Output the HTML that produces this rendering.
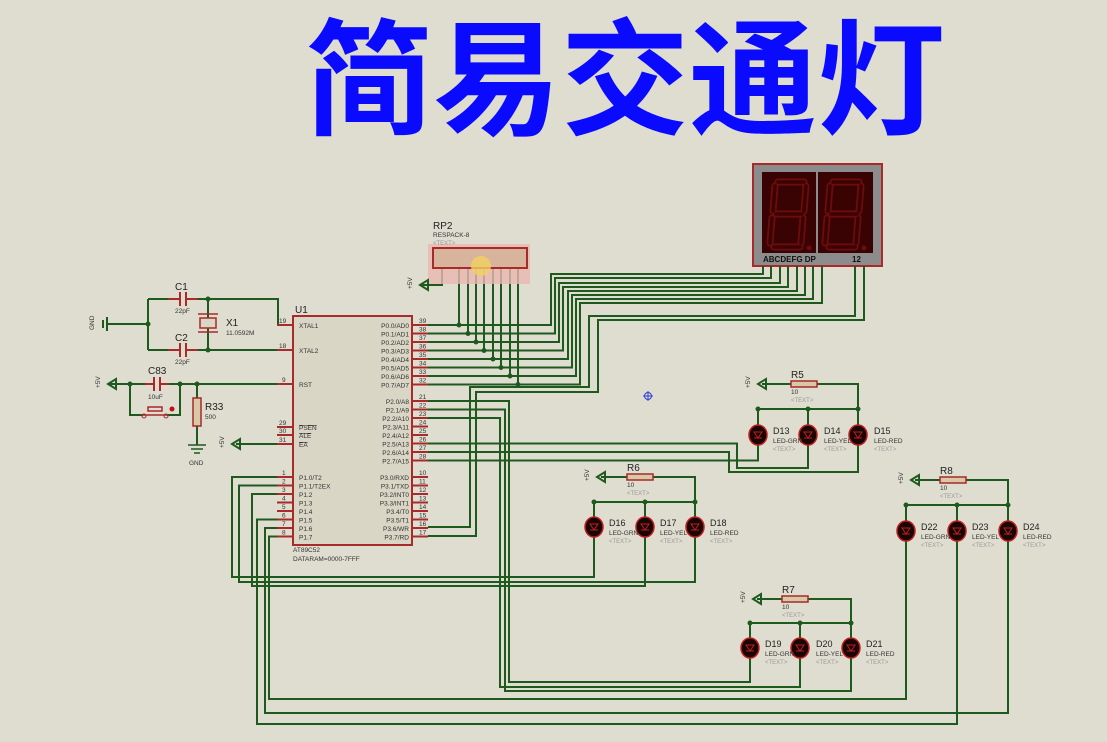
<!DOCTYPE html>
<html><head><meta charset="utf-8"><style>
html,body{margin:0;padding:0;background:#dfddd0;}
svg{display:block;}
.w{stroke:#1e5a1e;stroke-width:2;fill:none;}
.p{stroke:#a82a2a;stroke-width:2;fill:none;}
.t{font-family:"Liberation Sans",sans-serif;fill:#222;}
.s{font-family:"Liberation Sans",sans-serif;font-size:6.5px;fill:#333;}
.g{font-family:"Liberation Sans",sans-serif;font-size:6px;fill:#999;}
</style></head><body>
<svg width="1107" height="742" viewBox="0 0 1107 742" xmlns="http://www.w3.org/2000/svg">
<rect width="1107" height="742" fill="#dfddd0"/>
<text x="305" y="125" font-family="'Noto Sans CJK SC','WenQuanYi Zen Hei',sans-serif" font-weight="bold" font-size="126" fill="#0a0aff" textLength="640" lengthAdjust="spacingAndGlyphs">简易交通灯</text>

<!-- seven segment -->
<rect x="753" y="164" width="129" height="102" fill="#8c8c8c" stroke="#a82a2a" stroke-width="2"/>
<rect x="762" y="172" width="111" height="81" fill="#3a0303"/>
<line x1="817" y1="172" x2="817" y2="253" stroke="#8c8c8c" stroke-width="2"/>
<g fill="none" stroke-linecap="round">
<g stroke="#6e0c0c" stroke-width="7">
<path d="M778 182H804M775 186L773 211M806 186L804 211M776 214H802M772 218L770 243M803 218L801 243M774 247H800"/>
<path d="M833 182H859M830 186L828 211M861 186L859 211M831 214H857M827 218L825 243M858 218L856 243M829 247H855"/>
</g>
<g stroke="#3a0303" stroke-width="3.5">
<path d="M778 182H804M775 186L773 211M806 186L804 211M776 214H802M772 218L770 243M803 218L801 243M774 247H800"/>
<path d="M833 182H859M830 186L828 211M861 186L859 211M831 214H857M827 218L825 243M858 218L856 243M829 247H855"/>
</g>
</g>
<circle cx="809" cy="248" r="2.5" fill="#6e0c0c"/><circle cx="864" cy="248" r="2.5" fill="#6e0c0c"/>
<text x="763" y="262" font-family="'Liberation Sans',sans-serif" font-size="8" font-weight="bold" fill="#111">ABCDEFG DP</text>
<text x="852" y="262" font-family="'Liberation Sans',sans-serif" font-size="8" font-weight="bold" fill="#111">12</text>

<g class="w">
<path d="M428 325H551V274H763V266"/>
<path d="M428 333.5H555V278H771V266"/>
<path d="M428 342H559V283H780V266"/>
<path d="M428 350.5H563V287H788V266"/>
<path d="M428 359H568V291H797V266"/>
<path d="M428 367.5H572V295H805V266"/>
<path d="M428 376H576V299H813V266"/>
<path d="M428 384.5H580V303H822V266"/>
<path d="M855 266V316H589V387H470V527H428"/>
<path d="M864 266V320H598V392H476V536H428"/>
<path d="M459 268V325M468 268V333.5M476 268V342M484 268V350.5M493 268V359M501 268V367.5M510 268V376M518 268V384.5"/>
<path d="M442 268V285H422"/>
<path d="M428 401H509V682H750V657"/>
<path d="M428 409.5H505V691H851V657"/>
<path d="M428 418H500V687H800V657"/>
<path d="M428 443.5H737V468H808V444"/>
<path d="M428 452H729V472H858V444"/>
<path d="M428 460.5H758V444"/>
<path d="M282 477H232V577H594V536"/>
<path d="M282 485.5H239V582H695V536"/>
<path d="M282 494H252V586H645V536"/>
<path d="M282 519.5H257V724H957V540"/>
<path d="M282 528H265V713H1008V540"/>
<path d="M282 536.5H269V699H906V540"/>
<path d="M762 384H858V409M758 409H858M758 409V426M808 409V426M858 409V426"/>
<path d="M601 477H695V502M594 502H695M594 502V518M645 502V518M695 502V518"/>
<path d="M915 480H1008V505M906 505H1008M906 505V522M957 505V522M1008 505V522"/>
<path d="M757 599H851V623M750 623H851M750 623V639M800 623V639M851 623V639"/>
<path d="M148 299H278V325H293M148 350H293M148 299V350M108 324H148M208 299V350"/>
<path d="M110 384H293M130 384V415H143M167 415H180V384M197 384V445"/>
<path d="M236 444H282"/>
</g>
<g fill="#1e5a1e">
<circle cx="459" cy="325" r="2.5"/><circle cx="468" cy="333.5" r="2.5"/><circle cx="476" cy="342" r="2.5"/><circle cx="484" cy="350.5" r="2.5"/><circle cx="493" cy="359" r="2.5"/><circle cx="501" cy="367.5" r="2.5"/><circle cx="510" cy="376" r="2.5"/><circle cx="518" cy="384.5" r="2.5"/>
<circle cx="758" cy="409" r="2.5"/><circle cx="808" cy="409" r="2.5"/><circle cx="858" cy="409" r="2.5"/>
<circle cx="594" cy="502" r="2.5"/><circle cx="645" cy="502" r="2.5"/><circle cx="695" cy="502" r="2.5"/>
<circle cx="906" cy="505" r="2.5"/><circle cx="957" cy="505" r="2.5"/><circle cx="1008" cy="505" r="2.5"/>
<circle cx="750" cy="623" r="2.5"/><circle cx="800" cy="623" r="2.5"/><circle cx="851" cy="623" r="2.5"/>
<circle cx="148" cy="324" r="2.5"/><circle cx="208" cy="299" r="2.5"/><circle cx="208" cy="350" r="2.5"/>
<circle cx="130" cy="384" r="2.5"/><circle cx="180" cy="384" r="2.5"/><circle cx="197" cy="384" r="2.5"/>
</g>

<rect x="428" y="244" width="102" height="40" fill="#e9b8b0" opacity="0.8"/>
<rect x="433" y="248" width="94" height="20" fill="#d8b49c" stroke="#a82a2a" stroke-width="2"/>
<circle cx="481" cy="266" r="10" fill="#f2d060" opacity="0.8"/>
<text x="433" y="229" class="t" font-size="10">RP2</text>
<text x="433" y="237" class="s">RESPACK-8</text>
<text x="433" y="245" class="g">&lt;TEXT&gt;</text>

<rect x="293" y="316" width="119" height="229" fill="#d9d6c6" stroke="#a82a2a" stroke-width="2"/>
<g class="p">
<path d="M412 325H428M412 333.5H428M412 342H428M412 350.5H428M412 359H428M412 367.5H428M412 376H428M412 384.5H428"/>
<path d="M412 401H428M412 409.5H428M412 418H428M412 426.5H428M412 435H428M412 443.5H428M412 452H428M412 460.5H428"/>
<path d="M412 477H428M412 485.5H428M412 494H428M412 502.5H428M412 511H428M412 519.5H428M412 528H428M412 536.5H428"/>
<path d="M277 325H293M277 350H293M277 384H293M277 427H293M277 435H293M277 444H293"/>
<path d="M277 477H293M277 485.5H293M277 494H293M277 502.5H293M277 511H293M277 519.5H293M277 528H293M277 536.5H293"/>
</g>
<text x="295" y="313" class="t" font-size="10">U1</text>
<g class="s">
<text x="299" y="328">XTAL1</text><text x="299" y="353">XTAL2</text><text x="299" y="387">RST</text>
<text x="299" y="430" text-decoration="overline">PSEN</text><text x="299" y="438" text-decoration="overline">ALE</text><text x="299" y="447" text-decoration="overline">EA</text>
<text x="299" y="480">P1.0/T2</text><text x="299" y="488.5">P1.1/T2EX</text><text x="299" y="497">P1.2</text><text x="299" y="505.5">P1.3</text><text x="299" y="514">P1.4</text><text x="299" y="522.5">P1.5</text><text x="299" y="531">P1.6</text><text x="299" y="539.5">P1.7</text>
</g>
<g class="s" text-anchor="end">
<text x="409" y="328">P0.0/AD0</text><text x="409" y="336.5">P0.1/AD1</text><text x="409" y="345">P0.2/AD2</text><text x="409" y="353.5">P0.3/AD3</text><text x="409" y="362">P0.4/AD4</text><text x="409" y="370.5">P0.5/AD5</text><text x="409" y="379">P0.6/AD6</text><text x="409" y="387.5">P0.7/AD7</text>
<text x="409" y="404">P2.0/A8</text><text x="409" y="412.5">P2.1/A9</text><text x="409" y="421">P2.2/A10</text><text x="409" y="429.5">P2.3/A11</text><text x="409" y="438">P2.4/A12</text><text x="409" y="446.5">P2.5/A13</text><text x="409" y="455">P2.6/A14</text><text x="409" y="463.5">P2.7/A15</text>
<text x="409" y="480">P3.0/RXD</text><text x="409" y="488.5">P3.1/TXD</text><text x="409" y="497">P3.2/INT0</text><text x="409" y="505.5">P3.3/INT1</text><text x="409" y="514">P3.4/T0</text><text x="409" y="522.5">P3.5/T1</text><text x="409" y="531">P3.6/WR</text><text x="409" y="539.5">P3.7/RD</text>
</g>
<g class="s">
<text x="419" y="323">39</text><text x="419" y="331.5">38</text><text x="419" y="340">37</text><text x="419" y="348.5">36</text><text x="419" y="357">35</text><text x="419" y="365.5">34</text><text x="419" y="374">33</text><text x="419" y="382.5">32</text>
<text x="419" y="399">21</text><text x="419" y="407.5">22</text><text x="419" y="416">23</text><text x="419" y="424.5">24</text><text x="419" y="433">25</text><text x="419" y="441.5">26</text><text x="419" y="450">27</text><text x="419" y="458.5">28</text>
<text x="419" y="475">10</text><text x="419" y="483.5">11</text><text x="419" y="492">12</text><text x="419" y="500.5">13</text><text x="419" y="509">14</text><text x="419" y="517.5">15</text><text x="419" y="526">16</text><text x="419" y="534.5">17</text>
<text x="279" y="323">19</text><text x="279" y="348">18</text><text x="282" y="382">9</text><text x="279" y="425">29</text><text x="279" y="433">30</text><text x="279" y="442">31</text>
<text x="282" y="475">1</text><text x="282" y="483.5">2</text><text x="282" y="492">3</text><text x="282" y="500.5">4</text><text x="282" y="509">5</text><text x="282" y="517.5">6</text><text x="282" y="526">7</text><text x="282" y="534.5">8</text>
<text x="293" y="552">AT89C52</text><text x="293" y="561">DATARAM=0000-7FFF</text>
</g>

<rect x="168" y="293" width="30" height="12" fill="#dfddd0"/>
<rect x="168" y="344" width="30" height="12" fill="#dfddd0"/>
<g class="p"><path d="M168 299H180M186 299H198M180 292V306M186 292V306"/><path d="M168 350H180M186 350H198M180 343V357M186 343V357"/></g>
<text x="175" y="290" class="t" font-size="10">C1</text><text x="175" y="341" class="t" font-size="10">C2</text>
<text x="175" y="313" class="s">22pF</text><text x="175" y="364" class="s">22pF</text>
<rect x="200" y="318" width="16" height="10" fill="#d9d6c6" stroke="#a82a2a" stroke-width="1.5"/>
<path d="M198 314H218M198 332H218" stroke="#a82a2a" stroke-width="1.5"/>
<text x="226" y="326" class="t" font-size="10">X1</text><text x="226" y="335" class="s">11.0592M</text>
<path d="M107 317V331M103 320V328" stroke="#1e5a1e" stroke-width="2"/><text x="94" y="330" class="s" transform="rotate(-90 94 330)">GND</text>
<rect x="145" y="378" width="24" height="12" fill="#dfddd0"/>
<g class="p"><path d="M145 384H154M160 384H169M154 377V391M160 377V391"/></g>
<text x="148" y="374" class="t" font-size="10">C83</text><text x="148" y="399" class="s">10uF</text>
<path d="M143 415h24M148 411h14v-4h-14z" stroke="#a82a2a" stroke-width="1.5" fill="none"/>
<circle cx="144" cy="416" r="2" fill="none" stroke="#a82a2a"/><circle cx="166" cy="416" r="2" fill="none" stroke="#a82a2a"/><circle cx="172" cy="409" r="2.5" fill="#c01010"/>
<rect x="193" y="398" width="8" height="28" fill="#d8c8a8" stroke="#a82a2a" stroke-width="1.5"/>
<text x="205" y="410" class="t" font-size="10">R33</text><text x="205" y="419" class="s">500</text>
<path d="M188 445H206M191 449H203M194 453H200" stroke="#1e5a1e" stroke-width="1.5"/><text x="189" y="465" class="s">GND</text>

<g fill="none" stroke="#1e5a1e" stroke-width="2">
<path d="M108 384l8-5v10z"/><path d="M232 444l8-5v10z"/><path d="M420 285l8-5v10z"/>
<path d="M758 384l8-5v10z"/><path d="M597 477l8-5v10z"/><path d="M911 480l8-5v10z"/><path d="M753 599l8-5v10z"/>
</g>
<g class="s">
<text x="100" y="388" transform="rotate(-90 100 388)">+5V</text><text x="224" y="448" transform="rotate(-90 224 448)">+5V</text><text x="412" y="289" transform="rotate(-90 412 289)">+5V</text>
<text x="750" y="388" transform="rotate(-90 750 388)">+5V</text><text x="589" y="481" transform="rotate(-90 589 481)">+5V</text><text x="903" y="484" transform="rotate(-90 903 484)">+5V</text><text x="745" y="603" transform="rotate(-90 745 603)">+5V</text>
</g>
<g fill="#d8c8a8" stroke="#a82a2a" stroke-width="1.5">
<rect x="791" y="381" width="26" height="6"/><rect x="627" y="474" width="26" height="6"/><rect x="940" y="477" width="26" height="6"/><rect x="782" y="596" width="26" height="6"/>
</g>
<text x="791" y="378" class="t" font-size="10">R5</text><text x="791" y="394" class="s">10</text><text x="791" y="402" class="g">&lt;TEXT&gt;</text>
<text x="627" y="471" class="t" font-size="10">R6</text><text x="627" y="487" class="s">10</text><text x="627" y="495" class="g">&lt;TEXT&gt;</text>
<text x="940" y="474" class="t" font-size="10">R8</text><text x="940" y="490" class="s">10</text><text x="940" y="498" class="g">&lt;TEXT&gt;</text>
<text x="782" y="593" class="t" font-size="10">R7</text><text x="782" y="609" class="s">10</text><text x="782" y="617" class="g">&lt;TEXT&gt;</text>

<g fill="#1a0505" stroke="#c02020" stroke-width="1.5">
<ellipse cx="758" cy="435" rx="9" ry="10"/><ellipse cx="808" cy="435" rx="9" ry="10"/><ellipse cx="858" cy="435" rx="9" ry="10"/>
<ellipse cx="594" cy="527" rx="9" ry="10"/><ellipse cx="645" cy="527" rx="9" ry="10"/><ellipse cx="695" cy="527" rx="9" ry="10"/>
<ellipse cx="906" cy="531" rx="9" ry="10"/><ellipse cx="957" cy="531" rx="9" ry="10"/><ellipse cx="1008" cy="531" rx="9" ry="10"/>
<ellipse cx="750" cy="648" rx="9" ry="10"/><ellipse cx="800" cy="648" rx="9" ry="10"/><ellipse cx="851" cy="648" rx="9" ry="10"/>
</g>
<g fill="none" stroke="#c02020" stroke-width="1">
<path d="M754 432h8l-4 6zM754 438h8"/><path d="M804 432h8l-4 6zM804 438h8"/><path d="M854 432h8l-4 6zM854 438h8"/>
<path d="M590 524h8l-4 6zM590 530h8"/><path d="M641 524h8l-4 6zM641 530h8"/><path d="M691 524h8l-4 6zM691 530h8"/>
<path d="M902 528h8l-4 6zM902 534h8"/><path d="M953 528h8l-4 6zM953 534h8"/><path d="M1004 528h8l-4 6zM1004 534h8"/>
<path d="M746 645h8l-4 6zM746 651h8"/><path d="M796 645h8l-4 6zM796 651h8"/><path d="M847 645h8l-4 6zM847 651h8"/>
</g>
<g>
<text x="773" y="434" class="t" font-size="9">D13</text><text x="773" y="443" class="s">LED-GRN</text><text x="773" y="451" class="g">&lt;TEXT&gt;</text>
<text x="824" y="434" class="t" font-size="9">D14</text><text x="824" y="443" class="s">LED-YEL</text><text x="824" y="451" class="g">&lt;TEXT&gt;</text>
<text x="874" y="434" class="t" font-size="9">D15</text><text x="874" y="443" class="s">LED-RED</text><text x="874" y="451" class="g">&lt;TEXT&gt;</text>
<text x="609" y="526" class="t" font-size="9">D16</text><text x="609" y="535" class="s">LED-GRN</text><text x="609" y="543" class="g">&lt;TEXT&gt;</text>
<text x="660" y="526" class="t" font-size="9">D17</text><text x="660" y="535" class="s">LED-YEL</text><text x="660" y="543" class="g">&lt;TEXT&gt;</text>
<text x="710" y="526" class="t" font-size="9">D18</text><text x="710" y="535" class="s">LED-RED</text><text x="710" y="543" class="g">&lt;TEXT&gt;</text>
<text x="921" y="530" class="t" font-size="9">D22</text><text x="921" y="539" class="s">LED-GRN</text><text x="921" y="547" class="g">&lt;TEXT&gt;</text>
<text x="972" y="530" class="t" font-size="9">D23</text><text x="972" y="539" class="s">LED-YEL</text><text x="972" y="547" class="g">&lt;TEXT&gt;</text>
<text x="1023" y="530" class="t" font-size="9">D24</text><text x="1023" y="539" class="s">LED-RED</text><text x="1023" y="547" class="g">&lt;TEXT&gt;</text>
<text x="765" y="647" class="t" font-size="9">D19</text><text x="765" y="656" class="s">LED-GRN</text><text x="765" y="664" class="g">&lt;TEXT&gt;</text>
<text x="816" y="647" class="t" font-size="9">D20</text><text x="816" y="656" class="s">LED-YEL</text><text x="816" y="664" class="g">&lt;TEXT&gt;</text>
<text x="866" y="647" class="t" font-size="9">D21</text><text x="866" y="656" class="s">LED-RED</text><text x="866" y="664" class="g">&lt;TEXT&gt;</text>
</g>
<g stroke="#3040d0" fill="none" stroke-width="1"><circle cx="648" cy="396" r="3.5"/><path d="M643 396h10M648 391v10"/></g>
</svg>
</body></html>
